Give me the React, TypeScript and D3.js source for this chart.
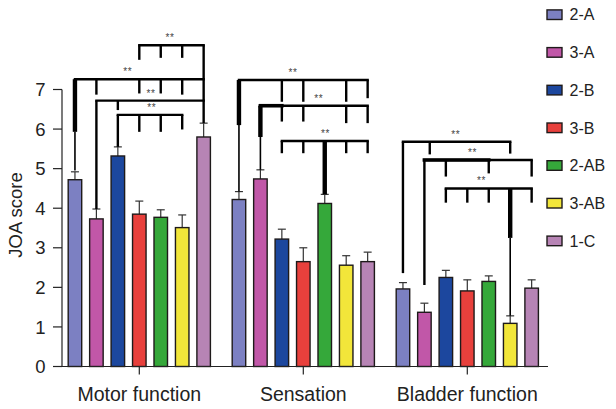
import * as d3 from 'd3';

// Chart data
const categories = ['Motor function', 'Sensation', 'Bladder function'];
const groups = ['2-A', '3-A', '2-B', '3-B', '2-AB', '3-AB', '1-C'];
const groupColors = ['#7c80c2', '#c157a8', '#1c479e', '#e8403c', '#35a83a', '#f2e63a', '#b784b5'];

const means = [
  [4.72, 3.73, 5.32, 3.85, 3.77, 3.51, 5.80],
  [4.22, 4.74, 3.22, 2.65, 4.12, 2.56, 2.65],
  [1.96, 1.37, 2.25, 1.91, 2.15, 1.09, 1.98],
];
const errs = [
  [0.20, 0.25, 0.23, 0.33, 0.19, 0.32, 0.35],
  [0.20, 0.23, 0.25, 0.35, 0.23, 0.24, 0.24],
  [0.16, 0.23, 0.18, 0.28, 0.14, 0.19, 0.21],
];
const yTicks = [0, 1, 2, 3, 4, 5, 6, 7];

// significance brackets: category, bar range, level (score units), label bar-position,
// drops [bar, end value, heavy-until value?]
interface Bracket {
  cat: number; from: number; to: number; level: number; labelAt: number;
  boldTo?: number; drops: [number, number, number?][];
}
const brackets: Bracket[] = [
  { cat: 0, from: 3, to: 6, level: 8.12, labelAt: 4.43, drops: [[3, 7.75], [4, 7.8], [5, 7.8], [6, 6.15]] },
  { cat: 0, from: 0, to: 6, level: 7.26, labelAt: 2.46, drops: [[0, 4.95, 5.93], [1, 6.87], [3, 6.9], [4, 6.9], [5, 6.87]] },
  { cat: 0, from: 1, to: 6, level: 6.72, labelAt: 3.54, drops: [[1, 3.98], [2, 6.48]] },
  { cat: 0, from: 2, to: 5, level: 6.36, labelAt: 3.58, drops: [[2, 5.55], [3, 5.93], [4, 5.93], [5, 5.99]] },
  { cat: 1, from: 0, to: 6, level: 7.24, labelAt: 2.52, drops: [[0, 4.42, 6.1], [2, 6.69], [3, 6.69], [5, 6.69], [6, 6.78]] },
  { cat: 1, from: 1, to: 6, level: 6.59, labelAt: 3.72, boldTo: 2, drops: [[1, 4.97, 5.8], [2, 6.19], [3, 6.19], [5, 6.15], [6, 6.15]] },
  { cat: 1, from: 2, to: 6, level: 5.70, labelAt: 4.03, drops: [[2, 5.39], [3, 5.39], [4, 4.35, 4.35], [5, 5.39], [6, 5.39]] },
  { cat: 2, from: 0, to: 5, level: 5.68, labelAt: 2.46, drops: [[0, 2.36], [1.25, 5.36], [5, 5.38]] },
  { cat: 2, from: 1, to: 6, level: 5.22, labelAt: 3.24, boldTo: 4, drops: [[1, 2.06], [2, 4.8], [4, 4.88], [6, 4.8]] },
  { cat: 2, from: 2, to: 6, level: 4.50, labelAt: 3.66, drops: [[2, 4.14], [3, 4.14], [4, 4.14], [5, 1.28, 3.25], [6, 4.14]] },
];

const W = 616, H = 409;
const FONT = '"Liberation Sans", Arial, Helvetica, sans-serif';

export default function App() {
  const y = d3.scaleLinear().domain([0, 7]).range([366.5, 89.5]);
  const x0 = d3.scaleBand().domain(categories).range([57.3, 549.3]);
  const inner = 150.15;
  const x1 = d3.scaleBand().domain(groups).range([0, inner]).paddingInner(0.37).paddingOuter(0.185);
  const color = d3.scaleOrdinal<string, string>().domain(groups).range(groupColors);
  const step = x1.step();

  const groupStart = (c: number) => (x0(categories[c]) as number) + x0.bandwidth() / 2 - inner / 2;
  const barX = (c: number, i: number) => groupStart(c) + step * (i + 0.5);

  const x0Axis = y(0);
  const axisLeft = 62;

  return (
    <svg width={W} height={H} style={{ position: 'absolute', left: 0, top: 0, background: '#fff' }} fontFamily={FONT}>
      {/* bars + error bars */}
      {categories.map((cat, c) => (
        <g key={cat}>
          {groups.map((g, i) => {
            const bx = groupStart(c) + (x1(g) as number);
            const cx = bx + x1.bandwidth() / 2;
            const top = y(means[c][i]);
            const et = y(means[c][i] + errs[c][i]);
            return (
              <g key={g}>
                <line x1={cx} x2={cx} y1={top} y2={et} stroke="#333" strokeWidth={1.2} />
                <line x1={cx - 4} x2={cx + 4} y1={et} y2={et} stroke="#333" strokeWidth={1.2} />
                <rect x={bx} y={top} width={x1.bandwidth()} height={y(0) - top}
                  fill={color(g)} stroke="#1e1a1a" strokeWidth={1.4} />
              </g>
            );
          })}
        </g>
      ))}

      {/* significance brackets */}
      {brackets.map((b, k) => {
        const ly = y(b.level);
        const xa = barX(b.cat, b.from), xb = barX(b.cat, b.to);
        return (
          <g key={k} stroke="#000" strokeLinecap="square">
            <line x1={xa} x2={xb} y1={ly} y2={ly} strokeWidth={2.4} />
            {b.boldTo !== undefined && (
              <line x1={xa} x2={barX(b.cat, b.boldTo)} y1={ly} y2={ly} strokeWidth={3.6} />
            )}
            {b.drops.map(([i, end, heavy], j) => {
              const dx = barX(b.cat, i);
              if (heavy === undefined) {
                return <line key={j} x1={dx} x2={dx} y1={ly} y2={y(end)} strokeWidth={2.4} strokeLinecap="butt" />;
              }
              return (
                <g key={j}>
                  <line x1={dx} x2={dx} y1={ly} y2={y(heavy)} strokeWidth={4.4} strokeLinecap="butt" />
                  <line x1={dx} x2={dx} y1={y(heavy)} y2={y(end)} strokeWidth={1.6} strokeLinecap="butt" />
                </g>
              );
            })}
            <text x={barX(b.cat, b.labelAt)} y={ly - 4} textAnchor="middle" fontSize={10}
              fill="#444" stroke="none" letterSpacing={0.5}>**</text>
          </g>
        );
      })}

      {/* y axis */}
      <line x1={axisLeft} x2={axisLeft} y1={y(7)} y2={y(0)} stroke="#222" strokeWidth={1.2} />
      {yTicks.map(t => (
        <g key={t}>
          <line x1={53} x2={axisLeft} y1={y(t)} y2={y(t)} stroke="#222" strokeWidth={1.2} />
          <text x={45.5} y={y(t)} dy="0.36em" textAnchor="end" fontSize={18.5} fill="#222">{t}</text>
        </g>
      ))}
      <text transform={`translate(22,215) rotate(-90)`} textAnchor="middle" fontSize={18.5} fill="#222">JOA score</text>

      {/* x axis */}
      <line x1={53} x2={548} y1={x0Axis} y2={x0Axis} stroke="#222" strokeWidth={1.2} />
      {categories.map(cat => {
        const cx = (x0(cat) as number) + x0.bandwidth() / 2;
        return (
          <g key={cat}>
            <line x1={cx} x2={cx} y1={x0Axis} y2={x0Axis + 8} stroke="#222" strokeWidth={1.2} />
            <text x={cx} y={400.5} textAnchor="middle" fontSize={19.5} fill="#222">{cat}</text>
          </g>
        );
      })}

      {/* legend */}
      {groups.map((g, i) => {
        const ry = 14.7 + i * 37.7;
        return (
          <g key={g}>
            <rect x={547} y={ry - 4.8} width={15} height={9.6} fill={color(g)} stroke="#1e1a1a" strokeWidth={1.4} />
            <text x={569.5} y={ry} dy="0.36em" fontSize={16} fill="#222">{g}</text>
          </g>
        );
      })}
    </svg>
  );
}
